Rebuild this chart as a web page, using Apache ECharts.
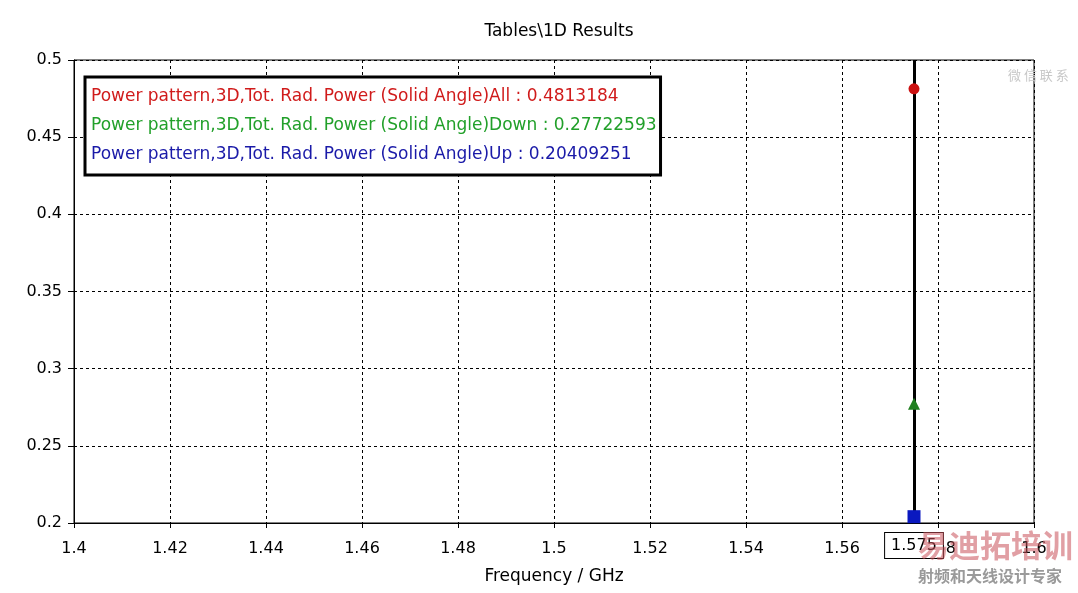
<!DOCTYPE html>
<html>
<head>
<meta charset="utf-8">
<script src="https://cdn.jsdelivr.net/npm/echarts@6/dist/echarts.min.js"></script>
<style>html,body{margin:0;padding:0;background:#fff;}#c{width:1078px;height:593px;}</style>
</head>
<body>
<div id="c"></div>
<script>
// ---- data ----
const frequencies = [1.575];
const seriesNames = [
  'Power pattern,3D,Tot. Rad. Power (Solid Angle)All',
  'Power pattern,3D,Tot. Rad. Power (Solid Angle)Down',
  'Power pattern,3D,Tot. Rad. Power (Solid Angle)Up'
];
const allValues = [0.4813184];
const downValues = [0.27722593];
const upValues = [0.20409251];
const legendValueText = ['0.4813184', '0.27722593', '0.20409251'];
const markerFrequency = 1.575;
const xRange = [1.4, 1.6, 0.02];
const yRange = [0.2, 0.5, 0.05];

const FONT = 'DejaVu Sans';
const textColors = ['#d01b1b', '#22a02a', '#1a1aa8'];
const markColors = ['#cc1111', '#1f7f1f', '#0a18c0'];
const symbols = ['circle', 'triangle', 'rect'];
const symbolSizes = [11, 12, 13];
const valueSets = [allValues, downValues, upValues];

const chart = echarts.init(document.getElementById('c'));
const series = seriesNames.map((name, i) => ({
  name: name,
  type: 'line',
  data: frequencies.map((f, k) => [f, valueSets[i][k]]),
  symbol: symbols[i],
  symbolSize: symbolSizes[i],
  showSymbol: true,
  itemStyle: { color: markColors[i] },
  lineStyle: { color: markColors[i] },
  z: 5
}));
series[0].markLine = {
  silent: true,
  symbol: ['none', 'none'],
  lineStyle: { color: '#000', width: 3, type: 'solid' },
  label: {
    show: true,
    position: 'start',
    distance: 10,
    formatter: String(markerFrequency),
    fontFamily: FONT,
    fontSize: 16,
    color: '#000',
    backgroundColor: '#fff',
    borderColor: '#000',
    borderWidth: 1,
    padding: [5, 6, 4, 6]
  },
  data: [[{ coord: [markerFrequency, yRange[0]] }, { coord: [markerFrequency, yRange[1]] }]],
  z: 4
};

chart.setOption({
  backgroundColor: '#fff',
  animation: false,
  title: {
    text: 'Tables\\1D Results',
    left: 554, top: 18, textAlign: 'center',
    textStyle: { fontFamily: FONT, fontSize: 17, fontWeight: 'normal', color: '#000' }
  },
  grid: { left: 74, top: 60, right: 44, bottom: 70, show: true, borderColor: '#000', borderWidth: 1 },
  legend: {
    orient: 'vertical',
    left: 85, top: 77,
    padding: [10, 4, 11, 1],
    itemGap: 10,
    itemWidth: 0, itemHeight: 0,
    icon: 'none',
    borderColor: '#000', borderWidth: 3,
    backgroundColor: '#fff',
    selectedMode: false,
    data: seriesNames.map((n, i) => ({ name: n, textStyle: { color: textColors[i] } })),
    formatter: name => name + ' : ' + legendValueText[seriesNames.indexOf(name)],
    textStyle: { fontFamily: FONT, fontSize: 17, lineHeight: 19 }
  },
  xAxis: {
    type: 'value', min: xRange[0], max: xRange[1], interval: xRange[2],
    name: 'Frequency / GHz', nameLocation: 'middle', nameGap: 45,
    nameTextStyle: { fontFamily: FONT, fontSize: 17, color: '#000' },
    axisLine: { lineStyle: { color: '#000', width: 1 } },
    axisTick: { show: true, length: 5, lineStyle: { color: '#000' } },
    axisLabel: { fontFamily: FONT, fontSize: 16, color: '#000', margin: 18 },
    splitLine: { show: true, lineStyle: { color: '#000', type: [3, 3], width: 1 } }
  },
  yAxis: {
    type: 'value', min: yRange[0], max: yRange[1], interval: yRange[2],
    axisLine: { show: true, lineStyle: { color: '#000', width: 1 } },
    axisTick: { show: true, length: 6, lineStyle: { color: '#000' } },
    axisLabel: { fontFamily: FONT, fontSize: 16, color: '#000', margin: 12 },
    splitLine: { show: true, lineStyle: { color: '#000', type: [3, 3], width: 1 } }
  },
  graphic: [
    { type: 'text', left: 1008, top: 69, z: 100, silent: true,
      style: { text: '微 信 联 系', fontFamily: 'Noto Sans CJK SC', fontSize: 13, fill: '#c8c8c8' } },
    { type: 'text', left: 918, top: 530, z: 100, silent: true,
      style: { text: '易迪拓培训', fontFamily: 'Noto Sans CJK SC', fontSize: 31, fontWeight: 'bold', fill: 'rgba(200,80,90,0.55)' } },
    { type: 'text', left: 918, top: 568, z: 100, silent: true,
      style: { text: '射频和天线设计专家', fontFamily: 'Noto Sans CJK SC', fontSize: 16, fontWeight: 'bold', fill: '#9a9a9a' } }
  ],
  series: series
});
</script>
</body>
</html>
